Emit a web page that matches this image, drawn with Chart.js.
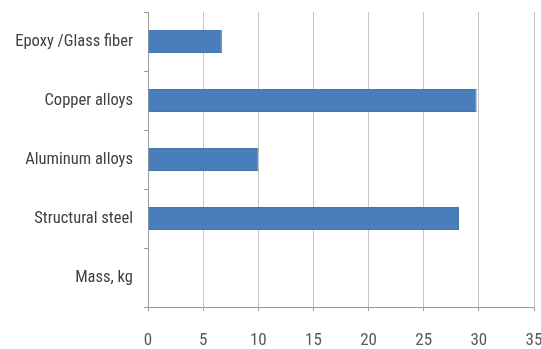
<!DOCTYPE html>
<html>
<head>
<meta charset="utf-8">
<script src="https://cdn.jsdelivr.net/npm/chart.js@4.4.1/dist/chart.umd.min.js"></script>
<style>
  html, body { margin: 0; padding: 0; background: #fff; }
  #wrap { width: 541px; height: 349px; }
</style>
</head>
<body>
<div id="wrap"><canvas id="massChart" width="541" height="349"></canvas></div>
<script>
// Materials and their mass
const categorias = ["Epoxy /Glass fiber", "Copper alloys", "Aluminum alloys", "Structural steel", "Mass, kg"];
const massa = [6.7, 29.8, 10.0, 28.2, null];
const ticksX = [0, 5, 10, 15, 20, 25, 30, 35];

const fonte = "'Liberation Sans Narrow', 'Roboto Condensed', Roboto, sans-serif";
const ctx = document.getElementById("massChart").getContext("2d");

new Chart(ctx, {
  type: "bar",
  data: {
    labels: categorias,
    datasets: [{
      data: massa,
      backgroundColor: "#4a7ebb",
      borderColor: "#4676b0",
      borderWidth: 1,
      categoryPercentage: 1,
      barPercentage: 0.39
    }]
  },
  options: {
    indexAxis: "y",
    responsive: false,
    animation: false,
    layout: { padding: { top: 12, right: 7, left: 0, bottom: 0 } },
    plugins: { legend: { display: false }, tooltip: { enabled: false } },
    scales: {
      x: {
        min: ticksX[0],
        max: ticksX[ticksX.length - 1],
        afterBuildTicks: axis => { axis.ticks = ticksX.map(v => ({ value: v })); },
        afterFit: axis => {
          axis.height = 42;
          axis.paddingLeft = 0;
          axis.paddingRight = 0;
        },
        grid: { color: "#c6c6c6", lineWidth: 1, tickLength: 4, tickColor: "#9a9a9a" },
        border: { color: "#9a9a9a", width: 1 },
        ticks: { color: "#595959", font: { family: fonte, size: 17 }, padding: 20 }
      },
      y: {
        afterFit: axis => {
          axis.width = 148;
          axis.paddingTop = 0;
          axis.paddingBottom = 0;
        },
        grid: { drawOnChartArea: false, offset: true, tickLength: 4, tickColor: "#9a9a9a" },
        border: { color: "#9a9a9a", width: 1 },
        ticks: { color: "#404040", font: { family: fonte, size: 16.5 }, padding: 11 }
      }
    }
  }
});
</script>
</body>
</html>
